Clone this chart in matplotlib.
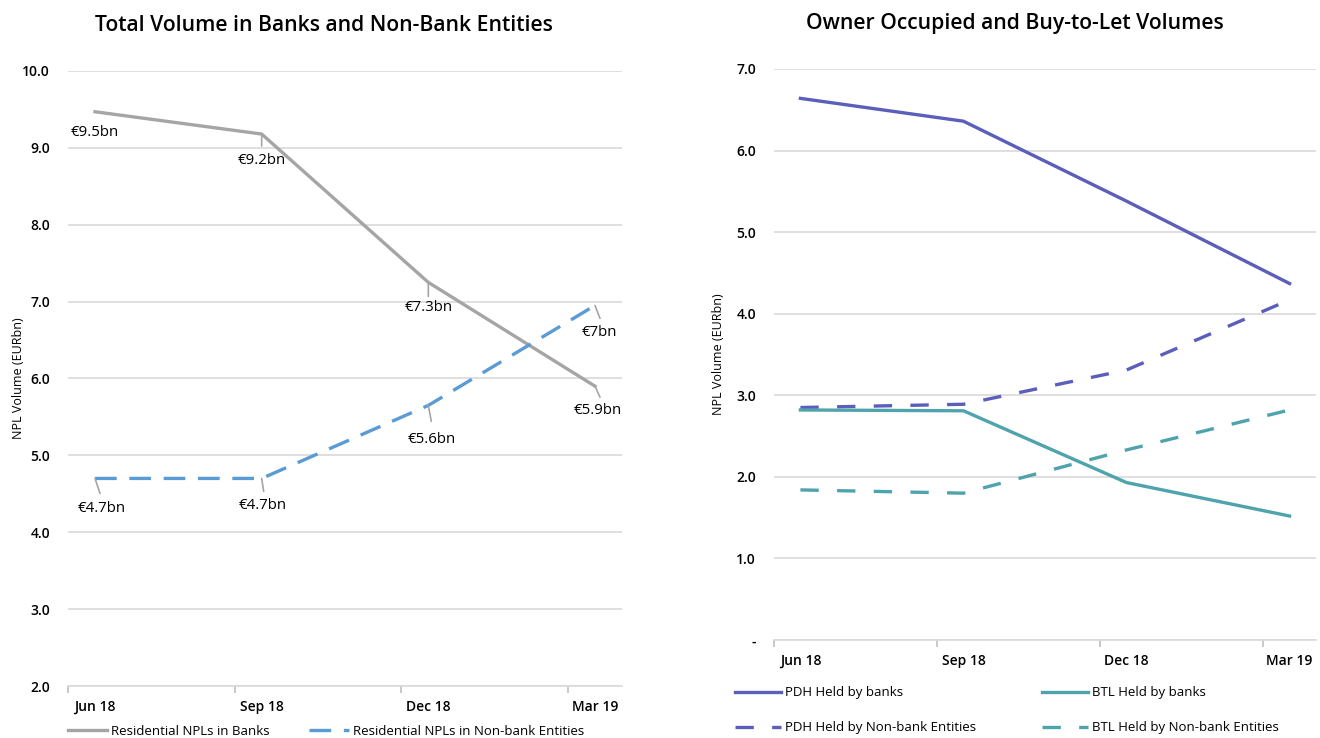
import matplotlib
matplotlib.use("Agg")
import matplotlib.pyplot as plt

plt.rcParams['font.family'] = ['Open Sans', 'DejaVu Sans']

# ---------------- data ----------------
categories = ["Jun 18", "Sep 18", "Dec 18", "Mar 19"]

banks = [9.47, 9.18, 7.25, 5.90]
nonbanks = [4.70, 4.70, 5.65, 6.95]
banks_labels = ["€9.5bn", "€9.2bn", "€7.3bn", "€5.9bn"]
nonbanks_labels = ["€4.7bn", "€4.7bn", "€5.6bn", "€7bn"]

pdh_banks = [6.64, 6.36, 5.38, 4.37]
pdh_nonbank = [2.85, 2.89, 3.31, 4.17]
btl_banks = [2.82, 2.81, 1.93, 1.52]
btl_nonbank = [1.84, 1.80, 2.33, 2.82]

left_yticks = [2, 3, 4, 5, 6, 7, 8, 9, 10]
right_yticks = [0, 1, 2, 3, 4, 5, 6, 7]
right_ytick_labels = ["-", "1.0", "2.0", "3.0", "4.0", "5.0", "6.0", "7.0"]

GRAY = "#A5A5A5"
BLUE = "#5B9BD5"
PURPLE = "#5B5EBA"
TEAL = "#4FA3AD"
GRID = "#D9D9D9"

W, H = 1320, 738
fig = plt.figure(figsize=(W / 100, H / 100), dpi=100)

def px_axes(x0, x1, ytop, ybot):
    return fig.add_axes([x0 / W, 1 - ybot / H, (x1 - x0) / W, (ybot - ytop) / H])

x = list(range(len(categories)))

def style_axes(ax, yt, ytl, ylim, ypad, ylabel_x):
    ax.set_xlim(-0.162, len(categories) - 1 + 0.162)
    ax.set_ylim(*ylim)
    ax.set_yticks(yt)
    ax.set_yticklabels(ytl, fontsize=10, fontweight='semibold')
    for s in ["left", "right", "top"]:
        ax.spines[s].set_visible(False)
    ax.spines["bottom"].set_color(GRID)
    ax.spines["bottom"].set_linewidth(1.2)
    ax.yaxis.grid(True, color=GRID, linewidth=1.2)
    ax.set_axisbelow(True)
    ax.tick_params(axis='y', length=0, pad=ypad)
    # category labels at data positions, tick marks at category boundaries
    ax.set_xticks(x)
    ax.set_xticklabels(categories, fontsize=10, fontweight='semibold')
    ax.tick_params(axis='x', which='major', length=0, pad=10)
    ax.set_xticks([-0.162 + i for i in range(len(categories))], minor=True)
    ax.tick_params(axis='x', which='minor', length=5, color="#BFBFBF", width=1.2)
    ax.set_ylabel("NPL Volume (EURbn)", fontsize=9)
    ax.yaxis.set_label_coords(ylabel_x, 0.5)

# ---------------- left chart ----------------
axL = px_axes(68, 622, 71, 686)
style_axes(axL, left_yticks, [f"{v:.1f}" for v in left_yticks], (2, 10), 13, -0.078)
lb, = axL.plot(x, banks, color=GRAY, lw=2.4, solid_joinstyle='miter')
ln, = axL.plot(x, nonbanks, color=BLUE, lw=2.4, dashes=(6.5, 3.8))
axL.set_title("Total Volume in Banks and Non-Bank Entities", fontsize=15.2,
              fontweight='semibold', pad=29, x=0.462)

# label offsets in pixels (leader end, text centre)
bank_off = [(None, (0, -21)), ((0, -12), (0, -26)), ((0, -14), (0, -25)), ((5, -11), (3, -24))]
nb_off = [((5, -15), (7, -30)), ((2, -13), (1, -27)), ((3, -16), (3, -34)), ((5, -13), (4, -27))]

def label(ax, xi, yi, txt, off):
    lead, toff = off
    if lead is not None:
        ax.annotate("", xy=(xi, yi), xytext=(lead[0] * 0.72, lead[1] * 0.72),
                    textcoords="offset points",
                    arrowprops=dict(arrowstyle='-', color=GRAY, lw=1.2,
                                    shrinkA=0, shrinkB=0))
    ax.annotate(txt, xy=(xi, yi), xytext=(toff[0] * 0.72, toff[1] * 0.72),
                textcoords="offset points", ha='center', va='center', fontsize=10.8)

for i in x:
    label(axL, i, banks[i], banks_labels[i], bank_off[i])
    label(axL, i, nonbanks[i], nonbanks_labels[i], nb_off[i])

axL.legend([lb, ln], ["Residential NPLs in Banks", "Residential NPLs in Non-bank Entities"],
           loc='upper left', bbox_to_anchor=(-0.01, -0.055), ncol=2, frameon=False,
           fontsize=9.5, handlelength=3.0, handletextpad=0.3, columnspacing=3.0,
           borderaxespad=0)

# ---------------- right chart ----------------
axR = px_axes(774, 1316, 69, 640)
style_axes(axR, right_yticks, right_ytick_labels, (0, 7), 13, -0.090)
p1, = axR.plot(x, pdh_banks, color=PURPLE, lw=2.4)
p2, = axR.plot(x, pdh_nonbank, color=PURPLE, lw=2.4, dashes=(5.5, 5.5))
b1, = axR.plot(x, btl_banks, color=TEAL, lw=2.4)
b2, = axR.plot(x, btl_nonbank, color=TEAL, lw=2.4, dashes=(5.5, 5.5))
axR.set_title("Owner Occupied and Buy-to-Let Volumes", fontsize=15.2,
              fontweight='semibold', pad=29, x=0.445)

axR.legend([p1, p2, b1, b2],
           ["PDH Held by banks", "PDH Held by Non-bank Entities",
            "BTL Held by banks", "BTL Held by Non-bank Entities"],
           loc='upper left', bbox_to_anchor=(-0.082, -0.072), ncol=2, frameon=False,
           fontsize=9.5, handlelength=3.5, handletextpad=0.3, columnspacing=5.0,
           labelspacing=1.65, borderaxespad=0)

fig.savefig("out.png", dpi=100)
